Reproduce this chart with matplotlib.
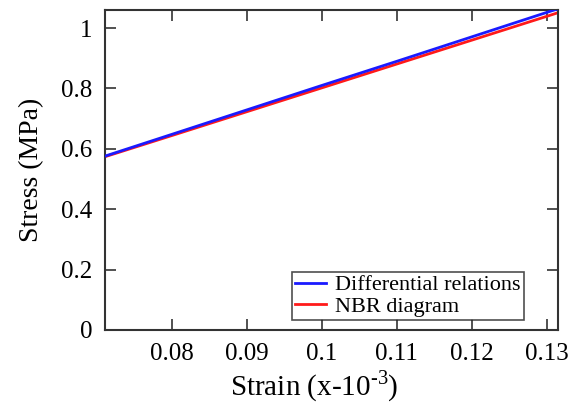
import matplotlib
matplotlib.use("Agg")
import matplotlib.pyplot as plt

strain = [0.0711, 0.08, 0.09, 0.10, 0.11, 0.12, 0.13, 0.1315]
stress_diff = [0.576, 0.648, 0.729, 0.810, 0.890, 0.971, 1.052, 1.064]
stress_nbr = [0.574, 0.644, 0.723, 0.802, 0.881, 0.960, 1.039, 1.051]
xticks = [0.08, 0.09, 0.10, 0.11, 0.12, 0.13]
xtick_labels = ["0.08", "0.09", "0.1", "0.11", "0.12", "0.13"]
yticks = [0, 0.2, 0.4, 0.6, 0.8, 1.0]
ytick_labels = ["0", "0.2", "0.4", "0.6", "0.8", "1"]

plt.rcParams['font.family'] = ['Liberation Serif', 'DejaVu Serif']
plt.rcParams['mathtext.fontset'] = 'custom'
plt.rcParams['mathtext.rm'] = 'Liberation Serif'

fig = plt.figure(figsize=(5.79, 4.16), dpi=100)
ax = fig.add_axes([105/579, 1-330/416, (558-105)/579, (330-10)/416])

ax.plot(strain, stress_nbr, color='#ff1a1a', lw=2, label='NBR diagram', zorder=2)
ax.plot(strain, stress_diff, color='#1a1aff', lw=2, label='Differential relations', zorder=3)

ax.set_xlim(0.0711, 0.1315)
ax.set_ylim(0, 1.06)
ax.set_xticks(xticks)
ax.set_xticklabels(xtick_labels)
ax.set_yticks(yticks)
ax.set_yticklabels(ytick_labels)
ax.tick_params(direction='in', length=8, width=1.2, top=True, right=True,
               labelsize=18, color='#333333', pad=9)
for s in ax.spines.values():
    s.set_linewidth(1.5)
    s.set_color('#333333')

ax.set_xlabel('Strain (x-10$^{\\text{-3}}$)', fontsize=21)
ax.xaxis.set_label_coords(0.463, -0.175, transform=ax.transAxes)
ax.xaxis.label.set_va('center')
ax.set_ylabel('Stress (MPa)', fontsize=20, labelpad=12)

h, l = ax.get_legend_handles_labels()
leg = ax.legend(h[::-1], l[::-1], loc='lower right', bbox_to_anchor=(0.925, 0.03),
                fontsize=16, frameon=True, fancybox=False, borderpad=0.15,
                handlelength=1.4, handletextpad=0.4, labelspacing=0.05, borderaxespad=0)
leg.get_frame().set_edgecolor('#222222')
leg.get_frame().set_linewidth(1.2)

fig.savefig('out.png', dpi=100)
